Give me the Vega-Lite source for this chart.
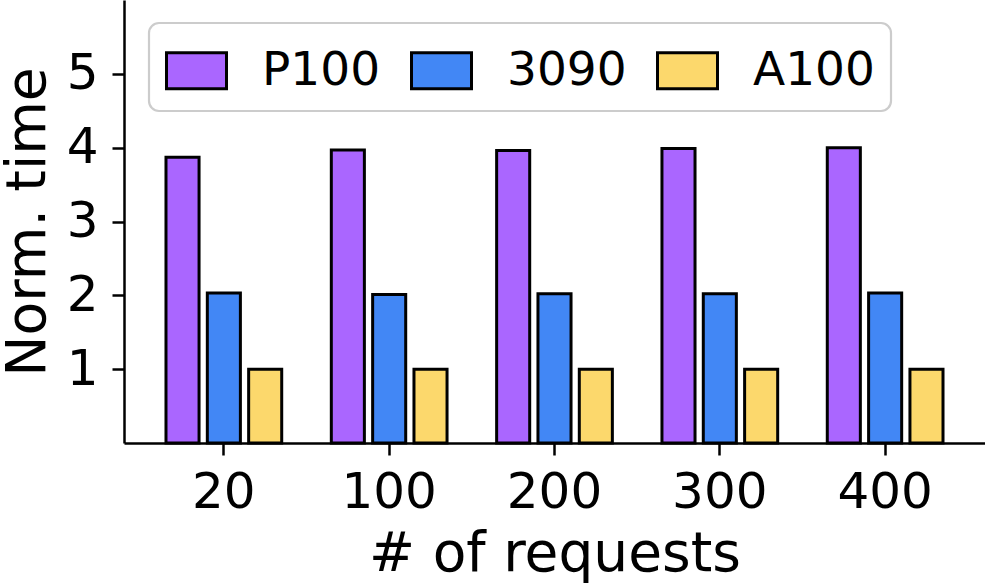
{
  "$schema": "https://vega.github.io/schema/vega-lite/v6.json",
  "width": 861,
  "height": 443,
  "autosize": {"type": "none"},
  "padding": {"left": 124, "top": 0, "right": 0, "bottom": 141},
  "background": "white",
  "data": {
    "values": [
      {"req": "20", "gpu": "P100", "time": 3.87},
      {"req": "20", "gpu": "3090", "time": 2.03},
      {"req": "20", "gpu": "A100", "time": 1.0},
      {"req": "100", "gpu": "P100", "time": 3.97},
      {"req": "100", "gpu": "3090", "time": 2.01},
      {"req": "100", "gpu": "A100", "time": 1.0},
      {"req": "200", "gpu": "P100", "time": 3.96},
      {"req": "200", "gpu": "3090", "time": 2.02},
      {"req": "200", "gpu": "A100", "time": 1.0},
      {"req": "300", "gpu": "P100", "time": 3.99},
      {"req": "300", "gpu": "3090", "time": 2.02},
      {"req": "300", "gpu": "A100", "time": 1.0},
      {"req": "400", "gpu": "P100", "time": 4.0},
      {"req": "400", "gpu": "3090", "time": 2.03},
      {"req": "400", "gpu": "A100", "time": 1.0}
    ]
  },
  "mark": {"type": "bar", "stroke": "black", "strokeWidth": 3},
  "encoding": {
    "x": {
      "field": "req",
      "type": "nominal",
      "sort": ["20", "100", "200", "300", "400"],
      "scale": {"paddingInner": 0, "paddingOuter": 0.104},
      "axis": {"title": "# of requests", "labelAngle": 0, "labelPadding": 12, "titlePadding": 10}
    },
    "xOffset": {
      "field": "gpu",
      "type": "nominal",
      "sort": ["P100", "3090", "A100"],
      "scale": {"paddingInner": 0.2, "paddingOuter": 0.6}
    },
    "y": {
      "field": "time",
      "type": "quantitative",
      "scale": {"domain": [0, 6], "nice": false},
      "axis": {"title": "Norm. time", "values": [1, 2, 3, 4, 5], "labelPadding": 14, "titlePadding": 10}
    },
    "color": {
      "field": "gpu",
      "type": "nominal",
      "sort": ["P100", "3090", "A100"],
      "scale": {"domain": ["P100", "3090", "A100"], "range": ["#AA66FF", "#4287F5", "#FCD86C"]},
      "legend": {
        "title": null,
        "orient": "none",
        "legendX": 25,
        "legendY": 23,
        "direction": "horizontal",
        "columns": 3,
        "padding": 16,
        "fillColor": "rgba(255,255,255,0.8)",
        "strokeColor": "#cccccc",
        "cornerRadius": 10,
        "symbolType": "M-1,-0.6H1V0.6H-1Z",
        "symbolSize": 3600,
        "symbolStrokeColor": "black",
        "symbolStrokeWidth": 3,
        "symbolOpacity": 1,
        "labelFontSize": 47,
        "labelFont": "DejaVu Sans",
        "labelColor": "black",
        "labelOffset": 34,
        "columnPadding": 24,
        "encode": {"legend": {"update": {"strokeWidth": {"value": 2.2}}}}
      }
    }
  },
  "config": {
    "view": {"stroke": null},
    "axis": {
      "grid": false,
      "domainColor": "black",
      "domainWidth": 2.5,
      "tickColor": "black",
      "tickWidth": 2.5,
      "tickSize": 12,
      "labelFont": "DejaVu Sans",
      "labelFontSize": 50,
      "labelColor": "black",
      "titleFont": "DejaVu Sans",
      "titleFontSize": 55,
      "titleFontWeight": "normal",
      "titleColor": "black"
    }
  }
}
